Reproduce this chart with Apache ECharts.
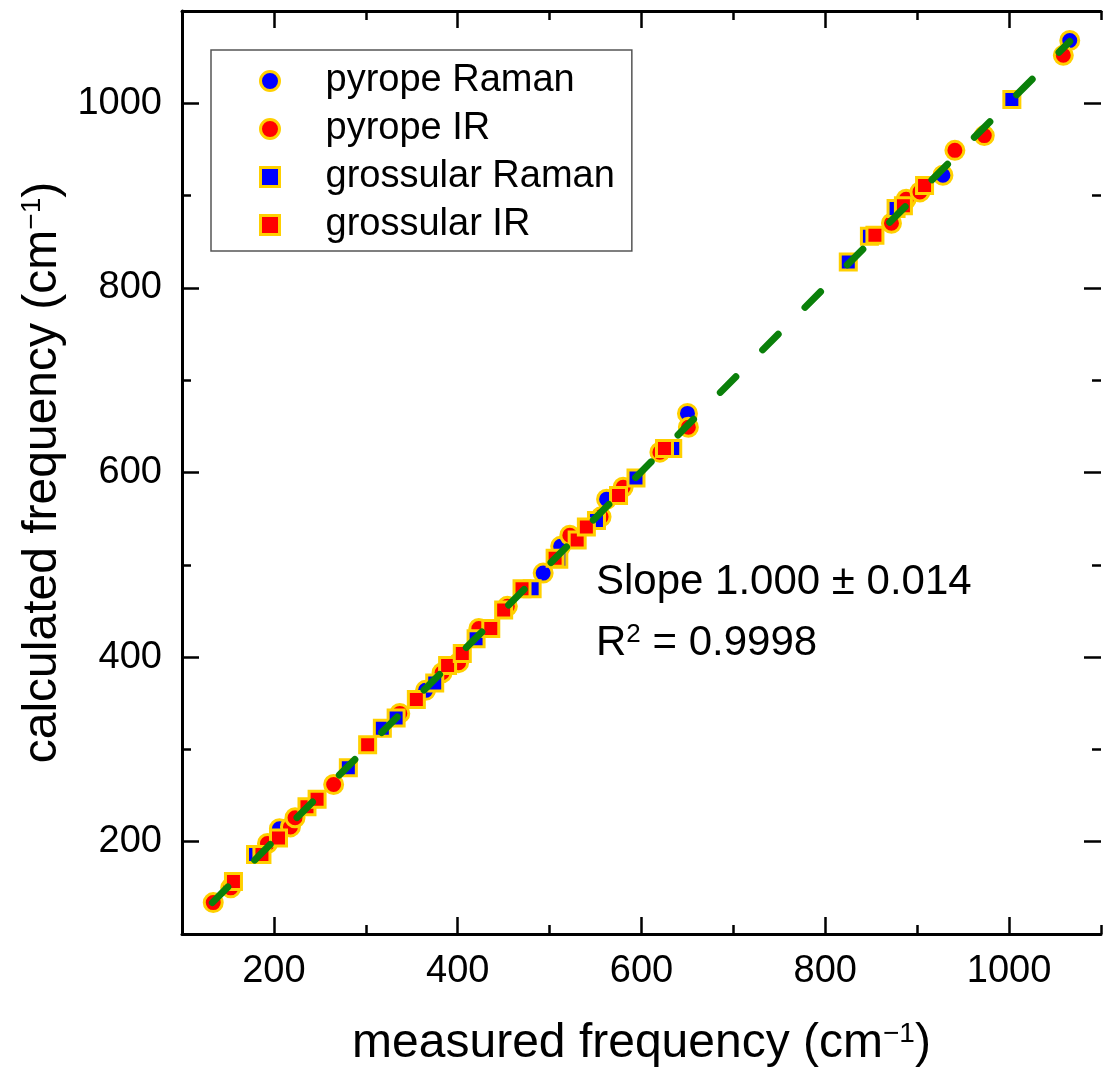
<!DOCTYPE html>
<html>
<head>
<meta charset="utf-8">
<script src="https://cdn.jsdelivr.net/npm/echarts@6/dist/echarts.min.js"></script>
<style>
html,body{margin:0;padding:0;background:#fff;overflow:hidden;}
#chart{width:1104px;height:1080px;}
</style>
</head>
<body>
<div id="chart"></div>
<script>
// measured (x) vs calculated (y) frequencies, cm^-1
const pyropeRaman = [[206,214],[365,364],[493,491],[512,520],[562,571],[650,664],[928,922],[1066,1068]];
const pyropeIR = [[134,134],[153,150],[193,198],[218,216],[223,226],[265,262],[337,339],[383,383],[401,394],[423,431],[454,455],[522,532],[556,552],[580,584],[620,622],[651,649],[872,870],[888,896],[903,904],[941,949],[973,965],[1059,1052]];
const grossularRaman = [[180,186],[281,280],[318,323],[333,334],[375,372],[420,420],[481,474],[510,506],[551,548],[594,594],[634,626],[825,828],[848,856],[877,886],[1003,1004]];
const grossularIR = [[156,157],[187,186],[205,204],[236,238],[247,246],[302,305],[355,354],[389,391],[405,404],[436,431],[450,451],[470,474],[506,507],[530,527],[540,541],[575,575],[625,626],[854,857],[885,889],[908,911]];
const fitLine = [[133,134],[1066,1067]];
const seriesNames = ['pyrope Raman','pyrope IR','grossular Raman','grossular IR'];
const majorTicks = [200,400,600,800,1000];
const axisMin = 100, axisMax = 1100, minorStep = 100;
const slopeText = 'Slope 1.000 \u00B1 0.014';
const r2Text = 'R{sup|2} = 0.9998';

const FONT = '"Liberation Sans", Arial, sans-serif';
const BLUE = '#0000FF', RED = '#FF0000', EDGE = '#FFD000', GREEN = '#0A800A';

function baseAxis(pos, withLabel, name, nameGap, showLine) {
  return {
    type: 'value', position: pos, min: axisMin, max: axisMax, interval: minorStep,
    axisLine: {show: showLine !== false, onZero: false, lineStyle: {color: '#000', width: 3}},
    axisTick: {show: true, inside: true, length: 9, lineStyle: {color: '#000', width: 2.5}},
    axisLabel: {
      show: withLabel, fontSize: 38, color: '#000', fontFamily: FONT,
      margin: pos === 'bottom' ? 19 : 20,
      formatter: v => (majorTicks.indexOf(v) >= 0 ? String(v) : '')
    },
    splitLine: {show: false},
    name: name || '', nameLocation: 'middle', nameGap: nameGap || 0,
    nameTextStyle: {
      fontSize: 48, color: '#000', fontFamily: FONT,
      rich: {sup: {fontSize: 28, color: '#000', fontFamily: FONT, verticalAlign: 'top', lineHeight: 48}}
    }
  };
}
function majorAxis(pos) {
  return {
    type: 'value', position: pos, min: axisMin, max: axisMax, interval: minorStep,
    axisLine: {show: false, onZero: false},
    axisTick: {show: true, inside: true, length: 17, customValues: majorTicks, lineStyle: {color: '#000', width: 2.5}},
    axisLabel: {show: false},
    splitLine: {show: false}
  };
}

const chart = echarts.init(document.getElementById('chart'), null, {renderer: 'canvas'});
const scatterBase = (name, data, symbol, color, size) => ({
  name, type: 'scatter', data, symbol, symbolSize: size,
  xAxisIndex: 0, yAxisIndex: 0,
  itemStyle: {color, borderColor: EDGE, borderWidth: 3, opacity: 1},
  emphasis: {disabled: true}, z: 3
});

chart.setOption({
  animation: false,
  backgroundColor: '#fff',
  grid: {left: 182, top: 11, width: 925, height: 923, containLabel: false},
  xAxis: [
    baseAxis('bottom', true, 'measured frequency (cm{sup|\u22121})', 86),
    majorAxis('bottom'),
    baseAxis('top', false),
    majorAxis('top')
  ],
  yAxis: [
    baseAxis('left', true, 'calculated frequency (cm{sup|\u22121})', 112),
    majorAxis('left'),
    baseAxis('right', false, '', 0, false),
    majorAxis('right')
  ],
  legend: {
    orient: 'vertical', left: 211, top: 50,
    padding: [12, 17, 7, 48], itemGap: 10, itemWidth: 19, itemHeight: 19,
    borderColor: '#555', borderWidth: 1.5, backgroundColor: '#fff',
    data: seriesNames,
    itemStyle: {borderColor: EDGE, borderWidth: 3},
    textStyle: {fontSize: 38, color: '#000', fontFamily: FONT, lineHeight: 38, padding: [0, 0, 0, 41]},
    selectedMode: false
  },
  graphic: [
    {type: 'text', left: 596, top: 585 - 24, z: 10,
     style: {text: slopeText, font: '42px ' + FONT, fill: '#000'}},
    {type: 'text', left: 596, top: 648 - 26, z: 10,
     style: {text: r2Text, font: '42px ' + FONT, fill: '#000',
             rich: {sup: {fontSize: 26, fontFamily: FONT, verticalAlign: 'top', fill: '#000'}}}}
  ],
  series: [
    scatterBase(seriesNames[0], pyropeRaman, 'circle', BLUE, 18),
    scatterBase(seriesNames[1], pyropeIR, 'circle', RED, 18),
    scatterBase(seriesNames[2], grossularRaman, 'rect', BLUE, 16),
    scatterBase(seriesNames[3], grossularIR, 'rect', RED, 16),
    {
      name: 'fit', type: 'line', data: fitLine, showSymbol: false, symbol: 'none',
      xAxisIndex: 0, yAxisIndex: 0, z: 6, silent: true,
      lineStyle: {color: GREEN, width: 7, type: [22, 38], cap: 'round'}
    }
  ]
});
</script>
</body>
</html>
